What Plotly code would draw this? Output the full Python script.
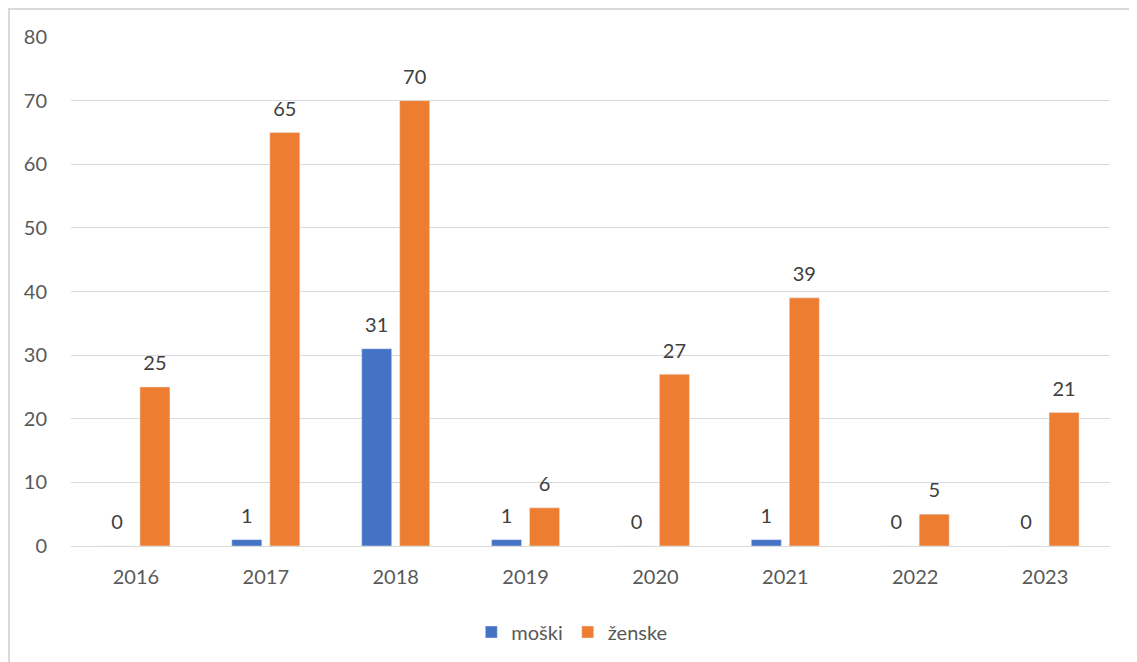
import plotly.graph_objects as go

years = ["2016", "2017", "2018", "2019", "2020", "2021", "2022", "2023"]
moski = [0, 1, 31, 1, 0, 1, 0, 0]
zenske = [25, 65, 70, 6, 27, 39, 5, 21]
y_ticks = [0, 10, 20, 30, 40, 50, 60, 70, 80]

FONT = "Lato, 'Open Sans', sans-serif"
FS = 20
label_tpl = "<span style='font-size:20px'>%{y}</span><br> "

fig = go.Figure()
fig.add_trace(go.Bar(
    x=years, y=moski, name="moški", marker_color="#4472C4",
    texttemplate=label_tpl, textposition="outside", cliponaxis=False, constraintext="none",
    textfont=dict(size=9, color="#404040", family=FONT),
))
fig.add_trace(go.Bar(
    x=years, y=zenske, name="ženske", marker_color="#ED7D31",
    texttemplate=label_tpl, textposition="outside", cliponaxis=False, constraintext="none",
    textfont=dict(size=9, color="#404040", family=FONT),
))

L, T, R, B = 63, 29, 35, 124
fig.update_layout(
    width=1137, height=662,
    margin=dict(l=L, r=R, t=T, b=B, autoexpand=False),
    paper_bgcolor="white", plot_bgcolor="white",
    barmode="group", bargap=0.415, bargroupgap=0.21,
    font=dict(family=FONT, size=FS, color="#595959"),
    showlegend=True,
    legend=dict(orientation="h", x=0.482, xanchor="center", y=-0.169, yanchor="middle",
                font=dict(size=FS, color="#595959"), itemwidth=30, traceorder="normal"),
    xaxis=dict(showgrid=False, showline=False, ticks="", ticklabelstandoff=17,
               tickfont=dict(size=FS, color="#595959")),
    yaxis=dict(range=[0, 80], tickvals=y_ticks, showgrid=True, gridcolor="#D9D9D9", gridwidth=1,
               zeroline=True, zerolinecolor="#D9D9D9", zerolinewidth=1, showline=False, ticks="",
               ticklabelstandoff=23, tickfont=dict(size=FS, color="#595959")),
    shapes=[dict(type="rect", xref="paper", yref="paper",
                 x0=(1 - L) / 1039, x1=1.2, y0=-0.4, y1=(662 - B - 1) / 509,
                 line=dict(color="#D9D9D9", width=2), fillcolor="rgba(0,0,0,0)", layer="below")],
)

fig.write_html("out.html")
